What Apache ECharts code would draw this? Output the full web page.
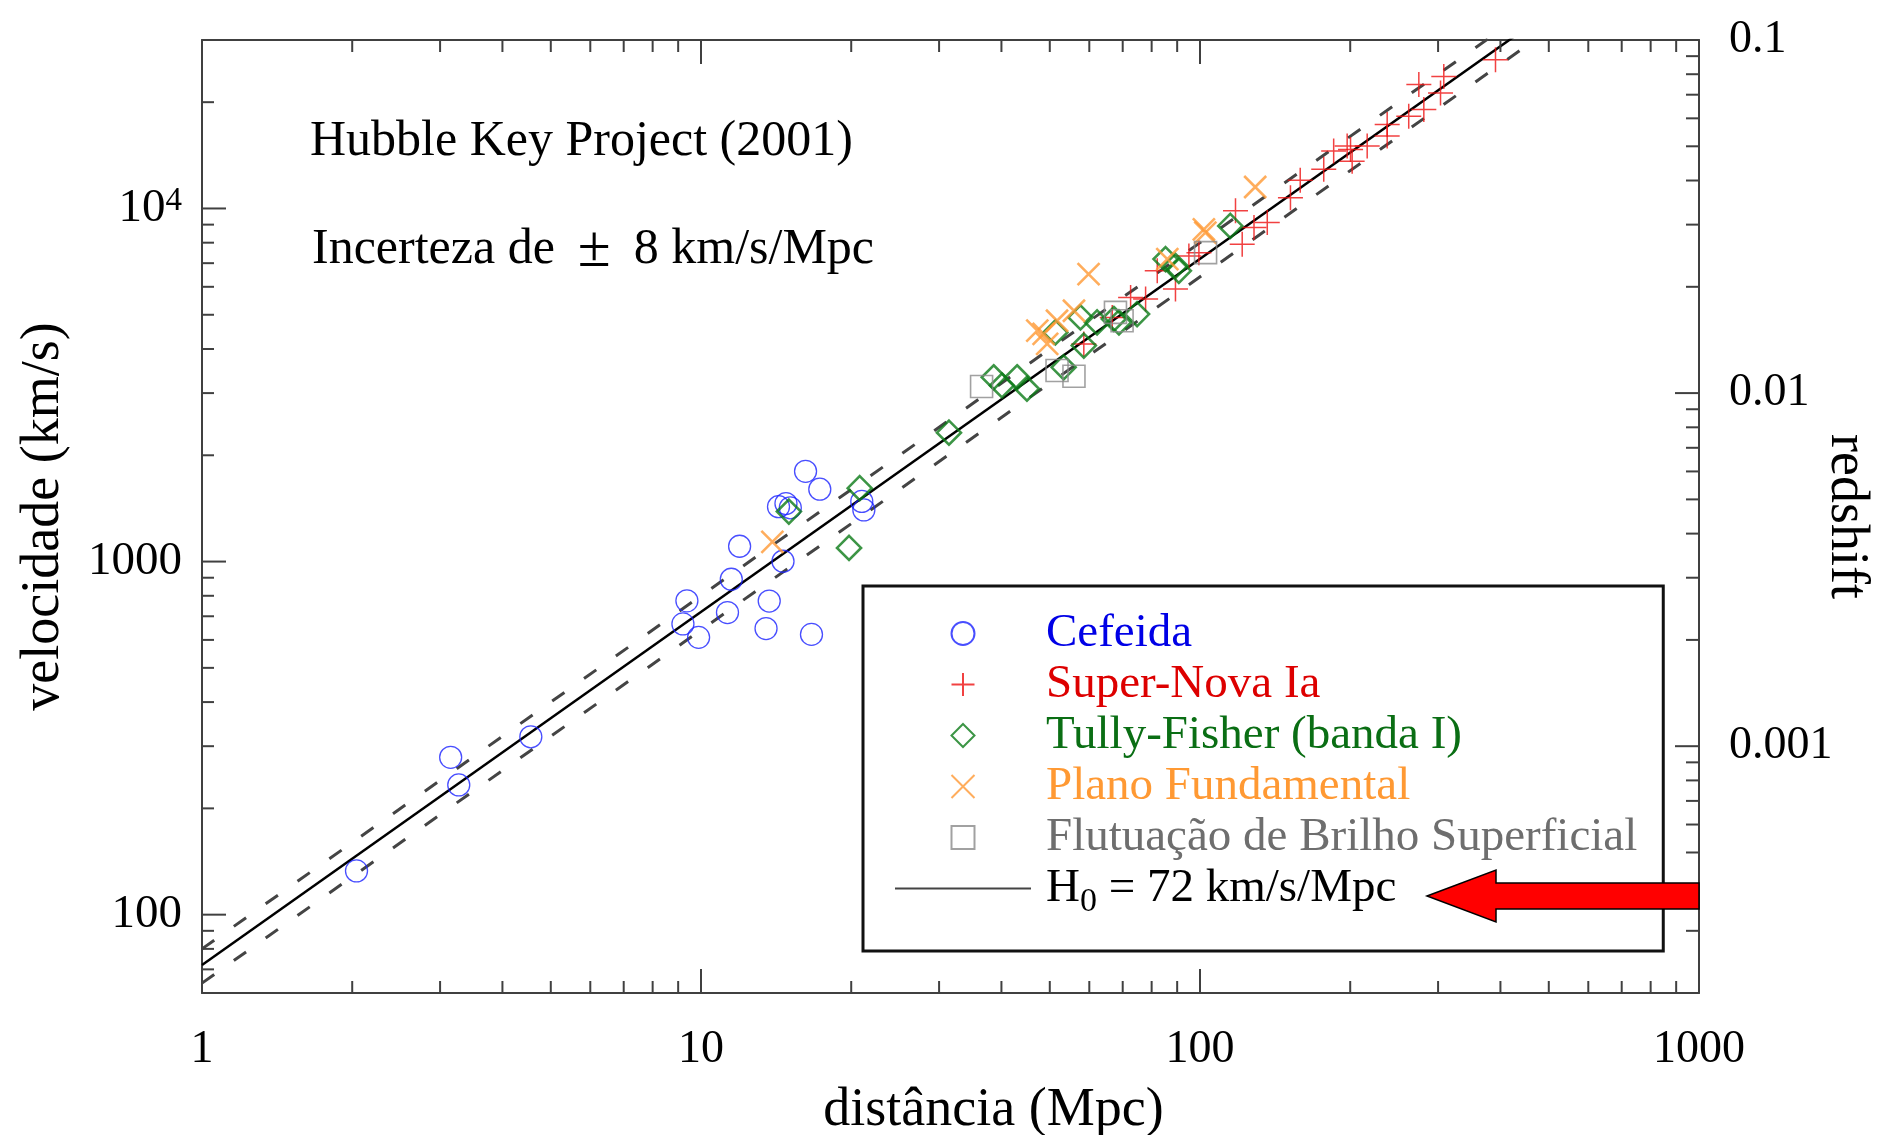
<!DOCTYPE html>
<html>
<head>
<meta charset="utf-8">
<title>Hubble Key Project (2001)</title>
<script src="https://cdn.jsdelivr.net/npm/echarts@6/dist/echarts.min.js"></script>
<style>
  html, body { margin: 0; padding: 0; background: #fff; }
  #chart { width: 1880px; height: 1135px; }
</style>
</head>
<body>
<div id="chart"></div>
<script>
// pontos: [distancia (Mpc), velocidade (km/s)]
const cefeida = [
  [2.04, 133], [3.15, 279], [3.27, 233], [4.56, 319], [9.37, 774], [9.2, 666],
  [9.89, 610], [11.5, 891], [11.3, 717], [11.95, 1105], [13.7, 773], [13.5, 646],
  [14.6, 1002], [14.3, 1430], [14.8, 1460], [15.1, 1420], [16.2, 1801], [17.3, 1603],
  [16.65, 622], [21.0, 1480], [21.2, 1400]
];
const superNova = [
  [58.5, 4134], [66.7, 4914], [72.6, 5598], [77.8, 5540], [82.1, 6659], [89.3, 5913],
  [95, 7340], [99.5, 7498], [117.8, 9846], [121.5, 7925], [128.3, 8831], [136.4, 9125],
  [151.8, 10730], [158.8, 12025], [177, 12920], [185.3, 14535], [197.2, 15020],
  [200.3, 14690], [201.8, 13610], [216.3, 15020], [237.2, 17290], [237.2, 16030],
  [262, 18250], [280.9, 19060], [274.5, 22430], [303.4, 21240], [308, 23660], [391, 26370]
];
const tullyFisher = [
  [15.0, 1385], [20.8, 1614], [19.8, 1093], [31.4, 2318], [38.6, 3327], [40.1, 3153],
  [43.0, 3327], [45.0, 3086], [53.3, 3548], [51.3, 4457], [57.6, 4914], [58.5, 4089],
  [62.2, 4757], [67.2, 4864], [68.8, 4757], [74.8, 5023], [85.3, 7187], [89.3, 6879],
  [90.7, 6659], [115, 8925]
];
const planoFundamental = [
  [13.9, 1137], [47.2, 4508], [49.4, 4134], [48.6, 4412], [51.7, 4808], [55.9, 5134],
  [59.8, 6517], [86.0, 7187], [101.8, 8730], [102.5, 8540], [129, 11500]
];
const flutuacao = [
  [36.5, 3131], [51.7, 3475], [55.9, 3349], [67.7, 5078], [69.8, 4808], [102.6, 7498]
];

// retas de Hubble (H0 = 72 e +/- 8 km/s/Mpc)
const hubble = [[1, 72], [1000, 72000]];
const hubbleLow = [[1, 64], [1000, 64000]];
const hubbleHigh = [[1, 80], [1000, 80000]];

// marcas dos eixos
const xMajorTicks = [10, 100];
const xMinorTicks = [2, 3, 4, 5, 6, 7, 8, 9, 20, 30, 40, 50, 60, 70, 80, 90,
  200, 300, 400, 500, 600, 700, 800, 900];
const vMajorTicks = [100, 1000, 10000];
const vMinorTicks = [70, 80, 90, 200, 300, 400, 500, 600, 700, 800, 900,
  2000, 3000, 4000, 5000, 6000, 7000, 8000, 9000, 20000];
const zMajorTicks = [0.001, 0.01];
const zMinorTicks = [0.0003, 0.0004, 0.0005, 0.0006, 0.0007, 0.0008, 0.0009,
  0.002, 0.003, 0.004, 0.005, 0.006, 0.007, 0.008, 0.009,
  0.02, 0.03, 0.04, 0.05, 0.06, 0.07, 0.08, 0.09];

const FONT = "'Liberation Serif', 'Times New Roman', serif";
const H0_NAME = 'H0 = 72 km/s/Mpc';
const tickStyle = { stroke: '#404040', lineWidth: 2 };

function tickData(major, minor, fixed, onX) {
  const rows = [];
  major.forEach(v => rows.push(onX ? [v, fixed, 1] : [fixed, v, 1]));
  minor.forEach(v => rows.push(onX ? [v, fixed, 0] : [fixed, v, 0]));
  return rows;
}

function xTicks(params, api) {
  const r = params.coordSys;
  const x = api.coord([api.value(0), api.value(1)])[0];
  const len = api.value(2) ? 24 : 12;
  return {
    type: 'group',
    children: [
      { type: 'line', shape: { x1: x, y1: r.y + r.height, x2: x, y2: r.y + r.height - len }, style: tickStyle },
      { type: 'line', shape: { x1: x, y1: r.y, x2: x, y2: r.y + len }, style: tickStyle }
    ]
  };
}
function leftTicks(params, api) {
  const r = params.coordSys;
  const y = api.coord([api.value(0), api.value(1)])[1];
  const len = api.value(2) ? 24 : 12;
  return { type: 'line', shape: { x1: r.x, y1: y, x2: r.x + len, y2: y }, style: tickStyle };
}
function rightTicks(params, api) {
  const r = params.coordSys;
  const y = api.coord([api.value(0), api.value(1)])[1];
  const len = api.value(2) ? 24 : 13;
  return { type: 'line', shape: { x1: r.x + r.width, y1: y, x2: r.x + r.width - len, y2: y }, style: tickStyle };
}

function powerLabel(v) {
  const e = Math.log10(v);
  const r = Math.round(e);
  if (Math.abs(e - r) > 1e-6) return '';
  return r >= 4 ? '10{sup|' + r + '}' : String(Math.pow(10, r));
}
function plainPowerLabel(v) {
  const e = Math.log10(v);
  const r = Math.round(e);
  if (Math.abs(e - r) > 1e-6) return '';
  return String(Math.pow(10, r));
}
function redshiftLabel(v) {
  const e = Math.log10(v);
  const r = Math.round(e);
  if (Math.abs(e - r) > 1e-6) return '';
  return Math.pow(10, r).toFixed(-r);
}

const axisLineStyle = { show: true, lineStyle: { color: '#404040', width: 2 } };

function scatter(name, data, symbol, size, color, width) {
  return {
    name: name,
    type: 'scatter',
    data: data,
    symbol: symbol,
    symbolSize: size,
    itemStyle: { color: 'transparent', borderColor: color, borderWidth: width },
    emphasis: { disabled: true },
    z: 3
  };
}

const titleStyle = { fontFamily: FONT, fontSize: 50, fontWeight: 'normal', color: '#000' };

const chart = echarts.init(document.getElementById('chart'));
chart.setOption({
  animation: false,
  backgroundColor: '#fff',
  title: [
    { text: 'Hubble Key Project (2001)', left: 310, top: 117, padding: 0, textStyle: titleStyle },
    {
      text: '{a|Incerteza de}{pm|\u00b1}{a|8 km/s/Mpc}', left: 312, top: 222, padding: 0,
      textStyle: {
        fontFamily: FONT, fontSize: 50, fontWeight: 'normal', color: '#000',
        rich: {
          a: { fontFamily: FONT, fontSize: 50, fontWeight: 'normal', color: '#000', lineHeight: 56 },
          pm: { fontFamily: FONT, fontSize: 60, fontWeight: 'normal', color: '#000', lineHeight: 56, padding: [0, 23, 0, 23] }
        }
      }
    }
  ],
  grid: { left: 202, right: 181, top: 40, bottom: 142, outerBoundsMode: 'none', containLabel: false },
  xAxis: [
    {
      type: 'log', min: 1, max: 1000, position: 'bottom',
      axisLine: axisLineStyle, axisTick: { show: false }, splitLine: { show: false },
      axisLabel: { fontFamily: FONT, fontSize: 46, color: '#000', margin: 34, formatter: plainPowerLabel },
      name: 'distância (Mpc)', nameLocation: 'middle', nameGap: 91, nameMoveOverlap: false,
      nameTextStyle: { fontFamily: FONT, fontSize: 54, color: '#000', padding: [0, 0, 0, 86] }
    },
    {
      type: 'log', min: 1, max: 1000, position: 'top',
      axisLine: axisLineStyle, axisTick: { show: false }, splitLine: { show: false },
      axisLabel: { show: false }
    }
  ],
  yAxis: [
    {
      type: 'log', min: 60, max: 30000, position: 'left',
      axisLine: axisLineStyle, axisTick: { show: false }, splitLine: { show: false },
      axisLabel: {
        fontFamily: FONT, fontSize: 47, color: '#000', margin: 20,
        showMinLabel: false, showMaxLabel: false,
        formatter: powerLabel,
        rich: { sup: { fontFamily: FONT, fontSize: 33, color: '#000', verticalAlign: 'top', lineHeight: 30 } }
      },
      name: 'velocidade (km/s)', nameLocation: 'middle', nameRotate: 90, nameGap: 131, nameMoveOverlap: false,
      nameTextStyle: { fontFamily: FONT, fontSize: 54, color: '#000' }
    },
    {
      type: 'log', min: 0.0002, max: 0.1, position: 'right',
      axisLine: axisLineStyle, axisTick: { show: false }, splitLine: { show: false },
      axisLabel: {
        fontFamily: FONT, fontSize: 46, color: '#000', margin: 30,
        showMinLabel: false, formatter: redshiftLabel
      },
      name: 'redshift', nameLocation: 'middle', nameRotate: -90, nameGap: 120, nameMoveOverlap: false,
      nameTextStyle: { fontFamily: FONT, fontSize: 54, color: '#000' }
    }
  ],
  legend: {
    orient: 'vertical',
    left: 863, top: 586,
    padding: [24, 26, 32, 32],
    itemWidth: 136, itemHeight: 23, itemGap: 4,
    borderColor: '#111', borderWidth: 3, backgroundColor: '#fff',
    selectedMode: false,
    textStyle: {
      fontFamily: FONT, fontSize: 47, lineHeight: 47, padding: [0, 0, 0, 10],
      rich: {
        n: { fontFamily: FONT, fontSize: 47, color: '#000', verticalAlign: 'top', lineHeight: 47 },
        sub: { fontFamily: FONT, fontSize: 34, color: '#000', verticalAlign: 'top', lineHeight: 34, padding: [20, 0, 0, 0] }
      }
    },
    formatter: function (name) {
      return name === H0_NAME ? '{n|H}{sub|0}{n| = 72 km/s/Mpc}' : name;
    },
    data: [
      { name: 'Cefeida', textStyle: { color: '#0000e6' } },
      { name: 'Super-Nova Ia', textStyle: { color: '#dd0000' } },
      { name: 'Tully-Fisher (banda I)', textStyle: { color: '#0a6e14' } },
      { name: 'Plano Fundamental', textStyle: { color: '#ff9933' } },
      { name: 'Flutuação de Brilho Superficial', textStyle: { color: '#6e6e6e' } },
      {
        name: H0_NAME, icon: 'path://M0,0L136,0L136,2L0,2Z',
        itemStyle: { color: '#444', borderWidth: 0 }, textStyle: { color: '#000' }
      }
    ]
  },
  graphic: [{
    type: 'polygon', z: 100,
    shape: { points: [[1427, 896], [1496, 870], [1496, 883], [1699, 883], [1699, 909], [1496, 909], [1496, 922]] },
    style: { fill: '#ff0000', stroke: '#000', lineWidth: 1.5 }
  }],
  series: [
    {
      name: 'H0 = 64', type: 'line', data: hubbleLow, symbol: 'none', silent: true,
      lineStyle: { color: '#444', width: 3, type: [15, 24] }
    },
    {
      name: 'H0 = 80', type: 'line', data: hubbleHigh, symbol: 'none', silent: true,
      lineStyle: { color: '#444', width: 3, type: [15, 24] }
    },
    {
      name: H0_NAME, type: 'line', data: hubble, symbol: 'none', silent: true,
      itemStyle: { color: '#000' },
      lineStyle: { color: '#000', width: 2.5 }
    },
    scatter('Cefeida', cefeida, 'circle', 22, '#1a22ff', 1.3),
    scatter('Super-Nova Ia', superNova, 'path://M0,12L24,12M12,0L12,24', 25, '#ee1111', 1.5),
    scatter('Tully-Fisher (banda I)', tullyFisher, 'path://M12,0L24,12L12,24L0,12Z', 24, '#0b7a16', 2.6),
    scatter('Plano Fundamental', planoFundamental, 'path://M0,0L24,24M24,0L0,24', 22, '#ff9933', 2.6),
    scatter('Flutuação de Brilho Superficial', flutuacao, 'path://M0,0L24,0L24,24L0,24Z', 22, '#8a8a8a', 1.6),
    {
      type: 'custom', silent: true, xAxisIndex: 0, yAxisIndex: 0,
      renderItem: xTicks, data: tickData(xMajorTicks, xMinorTicks, 1000, true), z: 5
    },
    {
      type: 'custom', silent: true, xAxisIndex: 0, yAxisIndex: 0,
      renderItem: leftTicks, data: tickData(vMajorTicks, vMinorTicks, 10, false), z: 5
    },
    {
      type: 'custom', silent: true, xAxisIndex: 0, yAxisIndex: 1,
      renderItem: rightTicks, data: tickData(zMajorTicks, zMinorTicks, 10, false), z: 5
    }
  ]
});
</script>
</body>
</html>
